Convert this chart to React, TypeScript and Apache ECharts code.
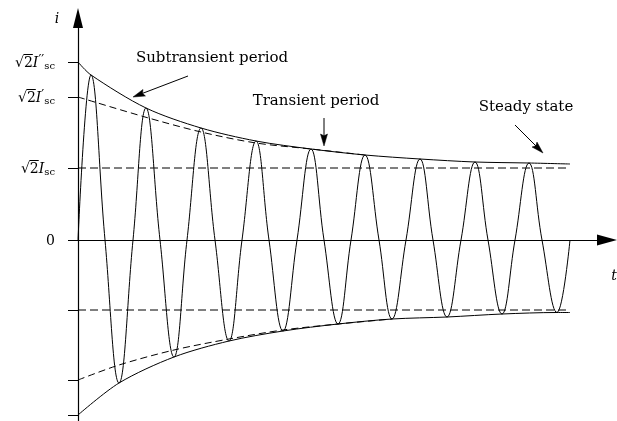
import React, { useEffect, useRef } from 'react';
import * as echarts from 'echarts';

const FONT = 'DejaVu Serif';

// Short-circuit current i(t): time in drawing units, extrema and zero crossings
const waveT = [0, 13, 27, 41, 55, 68, 82, 96, 109, 123, 137, 151, 164, 178, 191, 205, 219, 233, 246, 260, 273, 287, 301, 314, 328, 342, 355, 369, 383, 397, 410, 424, 437, 451, 464, 479, 492];
const waveI = [0, 165, 0, -143, 0, 132, 0, -117, 0, 112, 0, -101, 0, 99, 0, -91, 0, 91, 0, -84, 0, 85, 0, -79, 0, 81, 0, -77, 0, 78, 0, -74, 0, 77, 0, -72.5, 0];

// Outer (subtransient) envelope
const upperEnvT = [0, 13, 68, 123, 178, 233, 287, 342, 397, 451, 492];
const upperEnvI = [178, 165, 132, 112, 99, 91, 85, 81, 78, 77, 76];
const lowerEnvT = [0, 41, 96, 151, 205, 260, 314, 369, 424, 479, 492];
const lowerEnvI = [-175, -143, -117, -101, -91, -84, -79, -77, -74, -72.5, -72.5];

// Transient envelope (dashed)
const upperTrT = [0, 67, 123, 178, 233, 287];
const upperTrI = [143, 123, 108, 97, 91, 85];
const lowerTrT = [0, 41, 96, 151, 205, 260, 314];
const lowerTrI = [-140, -125, -110, -99, -90, -84, -79];

// Steady-state amplitude lines
const steadyT = [0, 492];
const steadyUpper = 72;
const steadyLower = -70;

// Y-axis ticks: value, primes on I ('' = none), whether it is a sqrt(2) label
const yTickValues = [178, 143, 72, 0, -70, -140, -175];
const yTickPrimes = ['′′', '′', '', '', '', '', ''];
const yTickKinds = ['sqrt', 'sqrt', 'sqrt', 'zero', 'none', 'none', 'none'];

// Annotations: text and arrows (arrow from -> to in data coords)
const annotations = [
  { text: 'Subtransient period', x: 212, y: 57, from: [110, 164], to: [55, 143] },
  { text: 'Transient period', x: 316, y: 100, from: [246, 122], to: [246, 94] },
  { text: 'Steady state', x: 526, y: 106, from: [437, 115], to: [465, 87] },
];

const zip = (a: number[], b: number[]) => a.map((v, i) => [v, b[i]]);

const MAIN = 14;
const PRIME = 13;
const SUB = 10;
const LABEL_MARGIN = 23;

function labelText(k: number) {
  const kind = yTickKinds[k];
  if (kind === 'zero') return '{r|0}';
  if (kind !== 'sqrt') return '';
  const pr = yTickPrimes[k];
  return '{r|√2}{i|I}' + (pr ? '{p|' + pr + '}' : '') + '{s|sc}';
}

export default function App() {
  const ref = useRef<HTMLDivElement>(null);
  useEffect(() => {
    document.body.style.margin = '0';
    const chart = echarts.init(ref.current as HTMLDivElement, null, { renderer: 'svg' });
    const black = '#000';
    const lineSeries = (name: string, data: number[][], opts: any = {}) => ({
      name,
      type: 'line',
      data,
      symbol: 'none',
      silent: true,
      smooth: opts.smooth ?? 0.3,
      z: opts.z ?? 2,
      lineStyle: { color: black, width: 1, type: opts.dash ?? 'solid' },
    });
    const option: any = {
      animation: false,
      textStyle: { fontFamily: FONT },
      grid: { left: 78, right: 10, top: 18, bottom: 0, containLabel: false, outerBoundsMode: 'none' },
      xAxis: {
        type: 'value',
        min: 0,
        max: 529,
        axisLine: {
          onZero: true,
          symbol: ['none', 'triangle'],
          symbolSize: [11, 20],
          lineStyle: { color: black, width: 1 },
        },
        axisTick: { show: false },
        axisLabel: { show: false },
        splitLine: { show: false },
      },
      yAxis: {
        type: 'value',
        min: -181,
        max: 222,
        axisLine: {
          show: true,
          onZero: false,
          symbol: ['none', 'triangle'],
          symbolSize: [10, 20],
          lineStyle: { color: black, width: 1.2 },
        },
        axisTick: {
          show: true,
          customValues: yTickValues,
          length: 10,
          inside: false,
          lineStyle: { color: black, width: 1 },
        },
        axisLabel: {
          show: true,
          customValues: yTickValues,
          margin: LABEL_MARGIN,
          color: black,
          formatter: (v: number) => {
            const k = yTickValues.indexOf(v);
            return k >= 0 ? labelText(k) : '';
          },
          rich: {
            r: { fontFamily: FONT, fontSize: MAIN, color: black },
            i: { fontFamily: FONT, fontSize: MAIN, fontStyle: 'italic', color: black },
            p: { fontFamily: FONT, fontSize: PRIME, color: black, padding: [0, 0, 6, 0] },
            s: { fontFamily: FONT, fontSize: SUB, color: black, padding: [7, 0, 0, 0] },
          },
        },
        splitLine: { show: false },
      },
      series: [
        lineSeries('steady+', zip(steadyT, steadyT.map(() => steadyUpper)), { dash: [8, 4], smooth: false, z: 1 }),
        lineSeries('steady-', zip(steadyT, steadyT.map(() => steadyLower)), { dash: [8, 4], smooth: false, z: 1 }),
        lineSeries('transient+', zip(upperTrT, upperTrI), { dash: [7, 4], z: 1 }),
        lineSeries('transient-', zip(lowerTrT, lowerTrI), { dash: [7, 4], z: 1 }),
        lineSeries('envelope+', zip(upperEnvT, upperEnvI), {}),
        lineSeries('envelope-', zip(lowerEnvT, lowerEnvI), {}),
        lineSeries('i(t)', zip(waveT, waveI), { smooth: 0.42, z: 3 }),
      ],
    };
    chart.setOption(option);

    // text measuring for the radical's overbar
    const ctx = document.createElement('canvas').getContext('2d') as CanvasRenderingContext2D;
    const mw = (t: string, size: number, italic = false) => {
      ctx.font = (italic ? 'italic ' : '') + size + 'px "' + FONT + '"';
      return ctx.measureText(t).width;
    };

    const graphics: any[] = [];
    const axisX = (chart.convertToPixel({ gridIndex: 0 }, [0, 0]) as number[])[0];
    yTickValues.forEach((v, k) => {
      if (yTickKinds[k] !== 'sqrt') return;
      const py = (chart.convertToPixel({ gridIndex: 0 }, [0, v]) as number[])[1];
      const right = axisX - LABEL_MARGIN;
      const pr = yTickPrimes[k];
      const rest = mw('I', MAIN, true) + (pr ? mw(pr, PRIME) : 0) + mw('sc', SUB);
      const x2 = right - rest;
      const x1 = x2 - mw('2', MAIN);
      graphics.push({
        type: 'line',
        shape: { x1: x1 - 0.5, y1: py - 7.5, x2: x2, y2: py - 7.5 },
        style: { stroke: black, lineWidth: 1 },
      });
    });

    graphics.push({
      type: 'text', x: 57, y: 18,
      style: { text: 'i', fontFamily: FONT, fontSize: 14, fontStyle: 'italic', fill: black, textAlign: 'center', textVerticalAlign: 'middle' },
    });
    graphics.push({
      type: 'text', x: 614, y: 275,
      style: { text: 't', fontFamily: FONT, fontSize: 14, fontStyle: 'italic', fill: black, textAlign: 'center', textVerticalAlign: 'middle' },
    });
    annotations.forEach((a) => {
      graphics.push({
        type: 'text', x: a.x, y: a.y,
        style: { text: a.text, fontFamily: FONT, fontSize: 15, fill: black, textAlign: 'center', textVerticalAlign: 'middle' },
      });
      const p0 = chart.convertToPixel({ gridIndex: 0 }, a.from) as number[];
      const p1 = chart.convertToPixel({ gridIndex: 0 }, a.to) as number[];
      const dx = p1[0] - p0[0];
      const dy = p1[1] - p0[1];
      const len = Math.sqrt(dx * dx + dy * dy);
      const ux = dx / len;
      const uy = dy / len;
      const nx = -uy;
      const ny = ux;
      const L = 12;
      const W = 7;
      const bx = p1[0] - ux * L;
      const by = p1[1] - uy * L;
      graphics.push({
        type: 'line',
        shape: { x1: p0[0], y1: p0[1], x2: bx + ux * 2, y2: by + uy * 2 },
        style: { stroke: black, lineWidth: 1 },
      });
      graphics.push({
        type: 'polygon',
        shape: {
          points: [
            [p1[0], p1[1]],
            [bx + nx * W / 2, by + ny * W / 2],
            [p1[0] - ux * L * 0.85, p1[1] - uy * L * 0.85],
            [bx - nx * W / 2, by - ny * W / 2],
          ],
        },
        style: { fill: black, stroke: black, lineWidth: 0.5 },
      });
    });
    chart.setOption({ graphic: graphics });
    return () => chart.dispose();
  }, []);
  return <div ref={ref} style={{ position: 'fixed', left: 0, top: 0, width: 617, height: 421 }} />;
}
